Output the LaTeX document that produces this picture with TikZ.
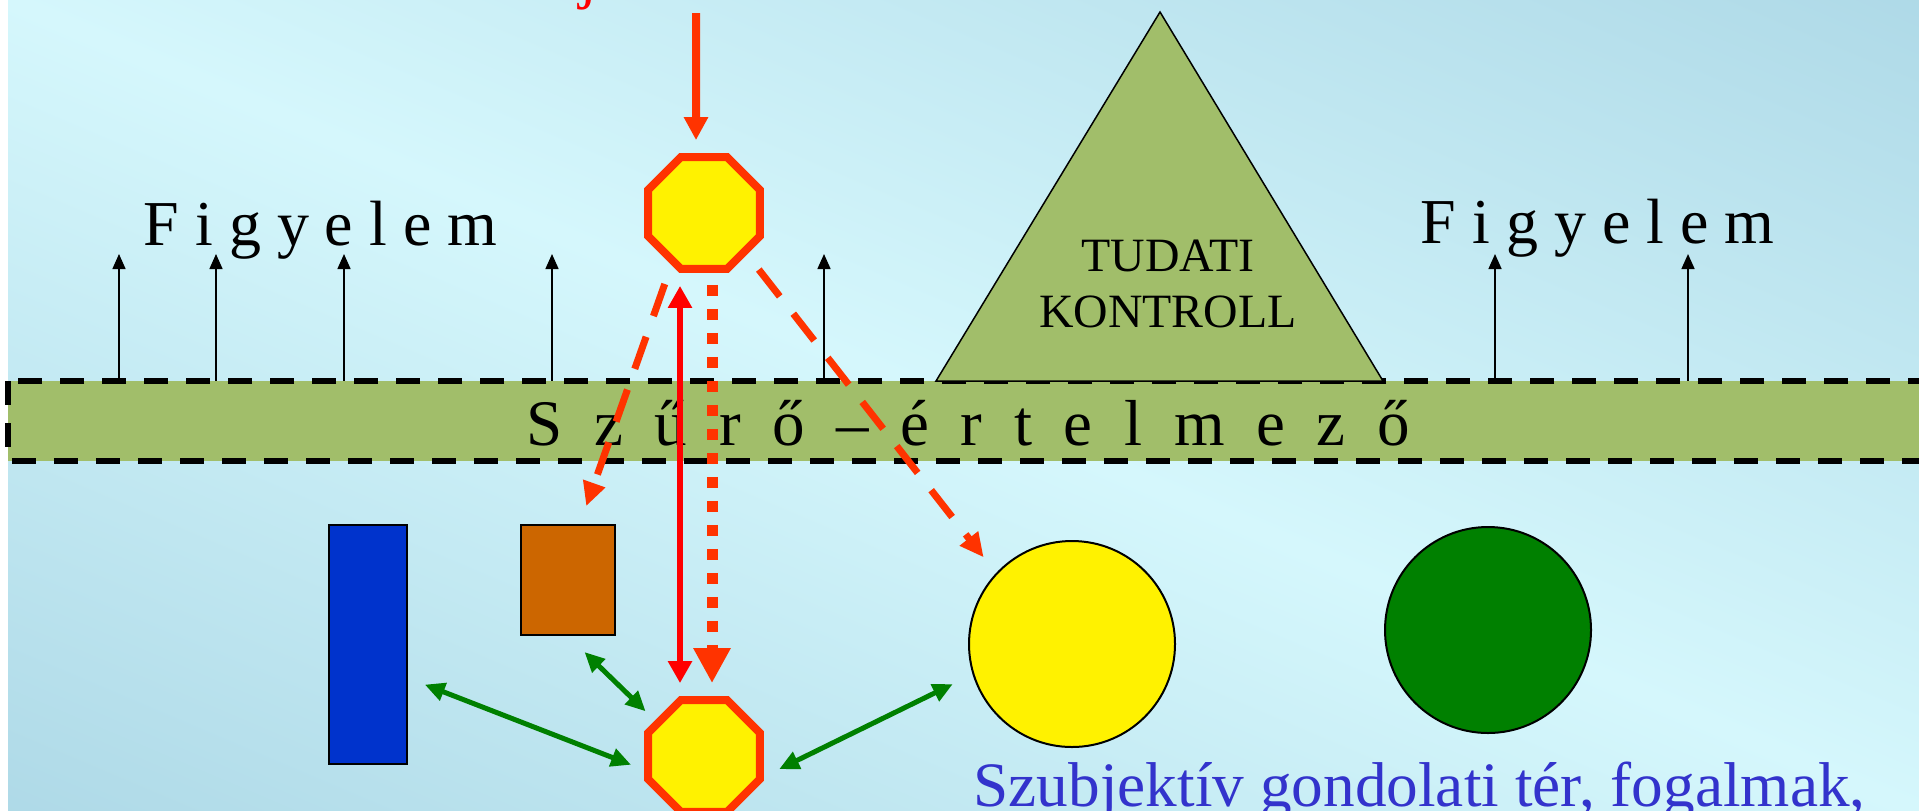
\documentclass[tikz,border=0pt]{standalone}
\usepackage{fontspec}
\setmainfont{Liberation Serif}
\usepackage{tikz}
\usetikzlibrary{positioning}
\usetikzlibrary{arrows.meta}
\usetikzlibrary{shapes.geometric}
\pgfdeclarelayer{background}
\pgfdeclarelayer{foreground}
\pgfsetlayers{background,main,foreground}

\definecolor{skyEdge}{RGB}{174,217,231}
\definecolor{skyMid}{RGB}{213,247,252}
\definecolor{filterGreen}{RGB}{161,190,106}
\definecolor{flame}{RGB}{255,51,0}
\definecolor{barBlue}{RGB}{0,51,204}
\definecolor{rust}{RGB}{204,102,0}
\definecolor{leaf}{RGB}{0,128,0}
\definecolor{ink}{RGB}{51,51,204}
\pgfdeclareverticalshading{skyglow}{100bp}{color(0bp)=(skyEdge); color(30bp)=(skyEdge); color(50bp)=(skyMid); color(70bp)=(skyEdge); color(100bp)=(skyEdge)}

\begin{document}
\begin{tikzpicture}[x=0.1mm, y=-0.1mm,
		octa/.style={regular polygon, regular polygon sides=8, minimum size=12.1mm, inner sep=0pt, fill=yellow, draw=flame, line width=0.8mm},
		block/.style={draw=black, line width=0.2mm, inner sep=0pt},
		word/.style={inner sep=0pt, anchor=base west, font=\fontsize{18.2}{20}\selectfont},
		attn/.style={line width=0.15mm, -{Triangle[length=1.5mm, width=1.3mm]}},
		probe/.style={flame, line width=0.7mm, dash pattern=on 3.4mm off 2.2mm, -{Triangle[length=2.4mm, width=2.2mm]}},
		link/.style={leaf, line width=0.5mm, {Triangle[length=2mm, width=1.8mm]}-{Triangle[length=2mm, width=1.8mm]}}]
				\useasboundingbox (0,0) rectangle (1919,810);

				%Background
				\begin{pgfonlayer}{background}
					\fill[white] (0,0) rectangle (1919,810);
					\begin{scope}
						\clip (8,0) rectangle (1919,810);
						\shade[shading=skyglow, shading angle=-23] (8,-550) rectangle (1919,1361);
					\end{scope}
				\end{pgfonlayer}

				%Attention arrows
				\coordinate      (f1) 	at 	(119,381);
				\coordinate      (t1) 	at 	(119,254);
				\coordinate      (f2) 	at 	(216,381);
				\coordinate      (t2) 	at 	(216,254);
				\coordinate      (f3) 	at 	(344,381);
				\coordinate      (t3) 	at 	(344,254);
				\coordinate      (f4) 	at 	(552,381);
				\coordinate      (t4) 	at 	(552,254);
				\coordinate      (f5) 	at 	(824,381);
				\coordinate      (t5) 	at 	(824,254);
				\coordinate      (f6) 	at 	(1495,381);
				\coordinate      (t6) 	at 	(1495,254);
				\coordinate      (f7) 	at 	(1688,381);
				\coordinate      (t7) 	at 	(1688,254);
				\draw[attn] (f1) -- (t1);
				\draw[attn] (f2) -- (t2);
				\draw[attn] (f3) -- (t3);
				\draw[attn] (f4) -- (t4);
				\draw[attn] (f5) -- (t5);
				\draw[attn] (f6) -- (t6);
				\draw[attn] (f7) -- (t7);

				%Band and triangle
				\draw[fill=filterGreen, line width=0.55mm, dash pattern=on 2.4mm off 1.8mm] (8,381) rectangle (1940,461);
				\coordinate      (apex) 	at 	(1160,12);
				\coordinate      (baseL) 	at 	(936,381);
				\coordinate      (baseR) 	at 	(1383,381);
				\draw[line width=0.15mm, fill=filterGreen] (apex) -- (baseL) -- (baseR) -- cycle;

				%Texts
				\node[word, text=red] (stimTxt) at (579,-4) {j};
				\node[word] (attnL) at (143,245) {F i g y e l e m};
				\node[word] (attnR) at (1420,243) {F i g y e l e m};
				\node[word, font=\fontsize{18.5}{20}\selectfont] (filterTxt) at (526,445) {\spaceskip=3.16mm S z ű r ő – é r t e l m e z ő};
				\node[inner sep=0pt, align=center, anchor=north, font=\fontsize{13.6}{15.9}\selectfont] (ctrl) at (1168,239) {TUDATI\\KONTROLL};
				\node[word, text=ink, font=\fontsize{18}{20}\selectfont] (spaceTxt) at (973,806) {Szubjektív gondolati tér, fogalmak,};

				%Nodes
				\coordinate      (stim) 	at 	(696,13);
				\node[octa] (oTop) at (704,213) {};
				\node[octa] (oBot) at (704,756) {};
				\node[block, fill=barBlue, minimum width=7.8mm, minimum height=23.9mm] (bar) at (368,644.5) {};
				\node[block, fill=rust, minimum width=9.4mm, minimum height=11mm] (box) at (568,580) {};
				\node[block, circle, fill=yellow, minimum size=20.6mm] (sun) at (1072,644) {};
				\node[block, circle, fill=leaf, minimum size=20.6mm] (moss) at (1488,630) {};

				%Lines
				\draw[flame, line width=0.8mm, -{Triangle[length=2.3mm, width=2.3mm]}, shorten >=1.3mm] (stim) -- ([xshift=-0.8mm]oTop.north);
				\draw[red, line width=0.65mm, {Triangle[length=2.2mm, width=2.3mm]}-{Triangle[length=2.2mm, width=2.3mm]}, shorten <=1.3mm, shorten >=1.3mm] ([xshift=-2.4mm]oTop.south) -- ([xshift=-2.4mm]oBot.north);
				\draw[flame, line width=1.1mm, dash pattern=on 1.1mm off 1.3mm, -{Triangle[length=3.5mm, width=3.5mm]}, shorten <=1.2mm, shorten >=1.3mm] ([xshift=0.8mm]oTop.south) -- ([xshift=0.8mm]oBot.north);
				\draw[probe, shorten <=2mm, shorten >=1.9mm] (oTop.-122) -- (box.78);
				\draw[probe, shorten <=1.9mm, shorten >=2mm] (oTop.-44) -- (sun.137);
				\draw[link, shorten <=1.8mm, shorten >=1.4mm] (bar.-40) -- (oBot.193);
				\draw[link, shorten <=2.3mm, shorten >=1.3mm] (box.south) -- (oBot.144);
				\draw[link, shorten <=1.7mm, shorten >=2.2mm] (oBot.-19) -- (sun.197);

			\end{tikzpicture}
\end{document}
